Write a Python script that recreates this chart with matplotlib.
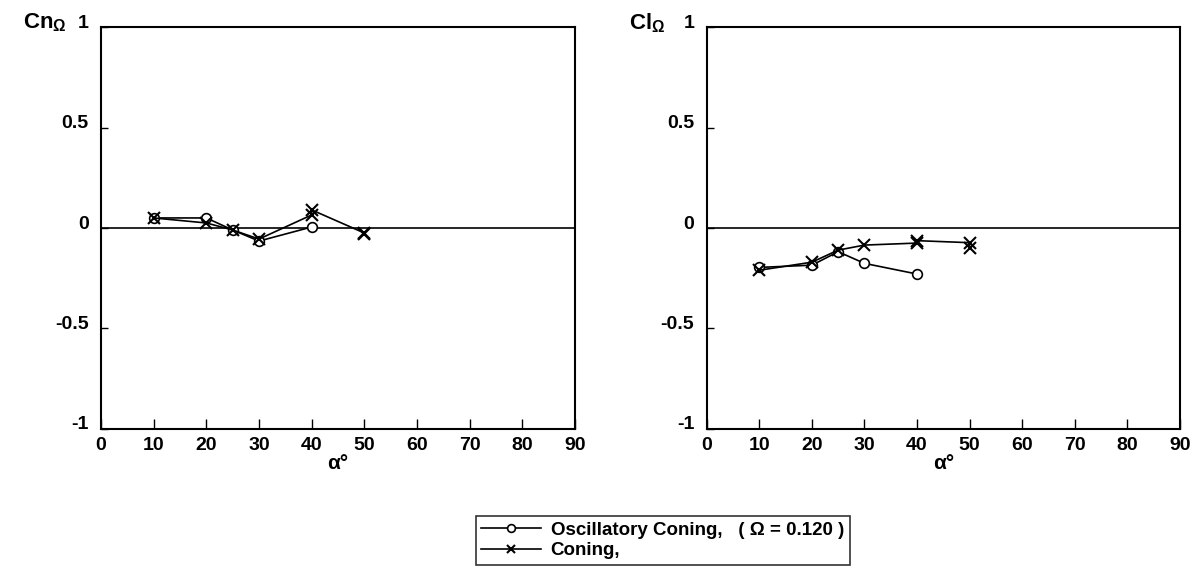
import matplotlib
matplotlib.use("Agg")
import matplotlib.pyplot as plt
from matplotlib.transforms import ScaledTranslation

plt.rcParams['font.family'] = ['Liberation Sans', 'DejaVu Sans']
plt.rcParams['font.weight'] = 'bold'
plt.rcParams['mathtext.fontset'] = 'custom'
plt.rcParams['mathtext.rm'] = 'Liberation Sans:bold'
plt.rcParams['mathtext.bf'] = 'Liberation Sans:bold'
plt.rcParams['mathtext.it'] = 'Liberation Sans:bold'

# Data
alpha_osc = [10, 20, 25, 30, 40]
cn_osc = [0.05, 0.05, -0.01, -0.065, 0.005]
cl_osc = [-0.196, -0.185, -0.118, -0.176, -0.229]

alpha_con = [10, 20, 25, 30, 40, 40, 50, 50]
cn_con = [0.05, 0.025, -0.01, -0.055, 0.065, 0.09, -0.025, -0.03]
cl_con = [-0.21, -0.17, -0.11, -0.085, -0.075, -0.063, -0.073, -0.098]

xticks = [0, 10, 20, 30, 40, 50, 60, 70, 80, 90]
yticks = [-1, -0.5, 0, 0.5, 1]
ytick_labels = ['-1', '-0.5', '0', '0.5', '1']

fig = plt.figure(figsize=(11.94, 5.71), dpi=100)
ax1 = fig.add_axes([0.0846, 0.2487, 0.397, 0.704])
ax2 = fig.add_axes([0.592, 0.2487, 0.396, 0.704])

for ax, yo, yc, lab in [(ax1, cn_osc, cn_con, r'$\mathrm{Cn}_{\Omega}$'),
                         (ax2, cl_osc, cl_con, r'$\mathrm{Cl}_{\Omega}$')]:
    ax.axhline(0, color='black', lw=1.2, zorder=1)
    l1, = ax.plot(alpha_osc, yo, color='black', lw=1.2, marker='o', ms=7,
                  mfc='white', mec='black', mew=1.2, label='Oscillatory Coning,   ( Ω = 0.120 )')
    l2, = ax.plot(alpha_con, yc, color='black', lw=1.2, marker='x', ms=8,
                  mew=1.5, label='Coning,')
    ax.set_xlim(0, 90)
    ax.set_ylim(-1, 1)
    ax.set_xticks(xticks)
    ax.set_xticklabels([str(v) for v in xticks])
    ax.set_yticks(yticks)
    ax.set_yticklabels(ytick_labels)
    ax.tick_params(axis='x', direction='in', length=7, width=1, pad=6, labelsize=14)
    ax.tick_params(axis='y', direction='in', length=5, width=1, pad=9, labelsize=14)
    for t in ax.get_xticklabels() + ax.get_yticklabels():
        t.set_fontweight('bold')
    for t in ax.get_yticklabels():
        t.set_transform(t.get_transform() + ScaledTranslation(0, 0.06, fig.dpi_scale_trans))
    for s in ax.spines.values():
        s.set_linewidth(1.5)
    ax.set_xlabel('α°', fontsize=15, fontweight='bold', labelpad=0)
    ax.text(-0.165, 1.01, lab, transform=ax.transAxes, fontsize=16,
            ha='left', va='center')

leg = fig.legend(handles=[l1, l2], loc='lower center', bbox_to_anchor=(0.555, -0.006),
                 frameon=True, fancybox=False, edgecolor='black', fontsize=13.5,
                 handlelength=3.2, borderpad=0.3, labelspacing=0.2, handletextpad=0.5,
                 markerscale=0.8)
leg.get_frame().set_linewidth(1.2)
for t in leg.get_texts():
    t.set_fontweight('bold')

fig.savefig('out.png', dpi=100)
